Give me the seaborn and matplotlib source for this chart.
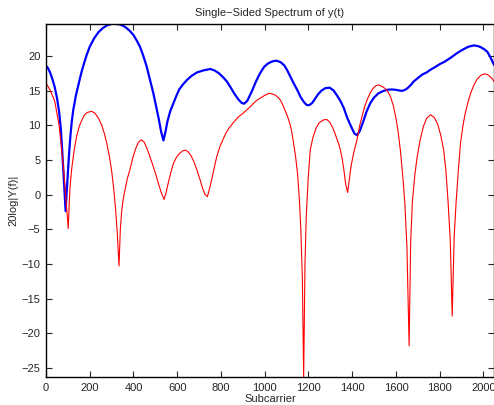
import matplotlib
matplotlib.use("Agg")
import matplotlib.pyplot as plt
import seaborn as sns

# blue curve (x = subcarrier, y = dB)
blue_x = [0, 10, 20, 30, 40, 50, 60, 68, 75, 82, 90, 95, 100, 106, 112, 118,
          125, 137, 150, 162, 175, 187, 200, 220, 240, 260, 280, 300, 320, 340,
          360, 380, 400, 415, 430, 445, 460, 475, 491, 503, 515, 527, 537, 546,
          555, 568, 583, 597, 610, 627, 644, 665, 690, 720, 751, 770, 790, 810,
          827, 845, 860, 880, 895, 906, 920, 940, 960, 979, 997, 1015, 1035,
          1053, 1072, 1090, 1103, 1117, 1133, 1150, 1165, 1180, 1192, 1204,
          1217, 1230, 1245, 1260, 1278, 1297, 1315, 1330, 1346, 1361, 1378,
          1395, 1410, 1422, 1435, 1450, 1466, 1483, 1500, 1520, 1540, 1559,
          1580, 1600, 1615, 1628, 1642, 1655, 1668, 1681, 1700, 1720, 1740,
          1758, 1780, 1800, 1825, 1849, 1875, 1900, 1930, 1956, 1975, 1990,
          2005, 2017, 2030, 2048]
blue_y = [18.6, 18.2, 17.5, 16.6, 15.5, 14.0, 12.0, 9.5, 6.0, 2.0, -2.4, 0.5,
          3.0, 6.0, 8.5, 10.5, 12.2, 14.3, 16.0, 17.6, 19.0, 20.2, 21.3, 22.5,
          23.4, 24.0, 24.4, 24.6, 24.6, 24.5, 24.2, 23.7, 23.0, 22.2, 21.3,
          20.0, 18.5, 16.6, 14.6, 12.8, 11.0, 9.0, 7.8, 9.0, 10.5, 12.0, 13.2,
          14.3, 15.2, 15.9, 16.5, 17.1, 17.6, 17.9, 18.1, 17.9, 17.5, 16.9,
          16.3, 15.4, 14.6, 13.7, 13.2, 13.1, 13.5, 14.8, 16.3, 17.5, 18.4,
          18.9, 19.2, 19.3, 19.1, 18.6, 17.9, 17.0, 16.0, 15.0, 14.0, 13.3,
          12.9, 12.9, 13.2, 13.8, 14.5, 15.0, 15.35, 15.4, 15.0, 14.3, 13.5,
          12.5, 11.0, 9.8, 8.8, 8.55, 9.2, 10.5, 12.0, 13.2, 14.0, 14.6, 14.9,
          15.1, 15.15, 15.1, 15.0, 14.95, 15.1, 15.4, 15.8, 16.3, 16.8, 17.3,
          17.6, 18.0, 18.4, 18.8, 19.2, 19.7, 20.3, 20.8, 21.3, 21.5, 21.4,
          21.2, 20.9, 20.6, 19.9, 18.7]

# red curve
red_x = [0, 20, 40, 60, 80, 95, 102, 106, 110, 117, 125, 132, 140, 152, 165,
         177, 190, 209, 225, 240, 255, 267, 278, 290, 300, 310, 318, 326, 334,
         340, 346, 354, 362, 372, 384, 397, 410, 422, 435, 448, 460, 475, 491,
         503, 515, 528, 540, 550, 560, 572, 583, 597, 610, 625, 639, 652, 665,
         678, 690, 703, 715, 727, 738, 749, 760, 770, 781, 795, 810, 825, 842,
         860, 880, 900, 918, 935, 950, 965, 979, 1000, 1020, 1035, 1050, 1061,
         1071, 1083, 1095, 1106, 1117, 1125, 1132, 1141, 1150, 1158, 1165,
         1172, 1178, 1184, 1190, 1199, 1208, 1220, 1235, 1248, 1260, 1272,
         1285, 1298, 1310, 1320, 1330, 1338, 1346, 1354, 1362, 1370, 1379,
         1387, 1395, 1408, 1422, 1433, 1445, 1456, 1468, 1481, 1495, 1508,
         1521, 1535, 1550, 1563, 1575, 1588, 1600, 1610, 1620, 1630, 1640,
         1650, 1660, 1667, 1675, 1686, 1697, 1710, 1725, 1740, 1758, 1775,
         1790, 1805, 1818, 1828, 1838, 1848, 1857, 1866, 1875, 1885, 1895,
         1905, 1915, 1928, 1941, 1955, 1970, 1988, 2005, 2018, 2030, 2040,
         2048]
red_y = [16.1, 15.0, 13.5, 10.0, 4.0, -2.0, -4.9, -1.5, 1.0, 3.5, 5.5, 7.0,
         8.35, 9.8, 10.8, 11.5, 11.85, 12.0, 11.7, 11.0, 10.0, 8.8, 7.4, 5.5,
         3.5, 0.8, -2.0, -5.5, -10.3, -5.0, -2.5, -0.5, 0.8, 2.3, 3.6, 5.3, 6.6,
         7.5, 7.9, 7.6, 6.8, 5.5, 4.0, 2.8, 1.5, 0.2, -0.7, 0.4, 1.8, 3.3, 4.5,
         5.4, 5.9, 6.3, 6.4, 6.1, 5.5, 4.6, 3.55, 2.3, 1.0, 0.0, -0.3, 1.0, 2.5,
         4.0, 5.5, 6.9, 8.0, 9.0, 9.8, 10.5, 11.2, 11.7, 12.2, 12.7, 13.2, 13.6,
         13.9, 14.3, 14.6, 14.5, 14.3, 14.0, 13.65, 12.9, 12.0, 11.1, 10.0, 8.8,
         7.4, 5.5, 3.0, -0.5, -5.0, -12.0, -26.3, -10.0, -3.0, 2.5, 6.4, 8.2,
         9.6, 10.3, 10.6, 10.8, 10.8, 10.4, 9.7, 8.9, 8.0, 7.3, 6.4, 5.2, 3.5,
         1.5, 0.3, 2.3, 4.2, 6.2, 7.9, 9.8, 11.3, 12.6, 13.65, 14.6, 15.3, 15.7,
         15.8, 15.6, 15.3, 14.8, 14.1, 12.8, 11.0, 9.0, 6.4, 3.0, -1.0, -7.5,
         -21.8, -7.0, -1.0, 2.8, 5.5, 7.8, 9.8, 11.0, 11.5, 11.1, 10.2, 8.5,
         6.4, 3.5, -1.0, -6.5, -17.5, -6.0, -1.0, 3.5, 7.4, 9.7, 11.5, 13.2,
         14.6, 15.7, 16.6, 17.2, 17.4, 17.3, 17.0, 16.7, 16.3]

x_ticks = list(range(0, 2001, 200))
y_ticks = list(range(-25, 21, 5))

sns.set_style("ticks")
plt.rcParams['font.family'] = ['Liberation Sans', 'DejaVu Sans']

fig = plt.figure(figsize=(4.94, 4.05), dpi=100)
ax = fig.add_axes([0.093, 0.069, 0.907, 0.872])

sns.lineplot(x=blue_x, y=blue_y, color='blue', linewidth=1.6,
             estimator=None, ax=ax)
sns.lineplot(x=red_x, y=red_y, color='red', linewidth=0.8,
             estimator=None, ax=ax)

ax.set_xlim(0, 2048)
ax.set_ylim(-26.3, 24.6)
ax.set_xticks(x_ticks)
ax.set_yticks(y_ticks)
ax.tick_params(direction='in', top=True, right=True, length=4, width=0.8,
               labelsize=8, pad=4)
for s in ax.spines.values():
    s.set_visible(True)
    s.set_linewidth(1.0)
    s.set_color('black')

ax.set_title('Single\u2212Sided Spectrum of y(t)', fontsize=8, pad=6)
ax.set_xlabel('Subcarrier', fontsize=8, labelpad=1)
ax.set_ylabel('20log|Y(f)|', fontsize=8, labelpad=2)

fig.savefig('out.png', dpi=100)
